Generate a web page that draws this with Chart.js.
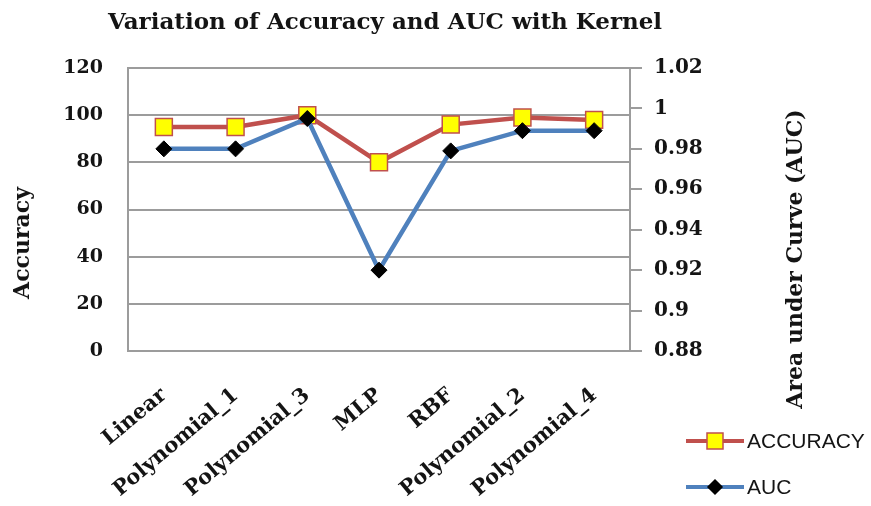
<!DOCTYPE html>
<html>
<head>
<meta charset="utf-8">
<script src="https://cdn.jsdelivr.net/npm/chart.js@4.4.1/dist/chart.umd.min.js"></script>
<style>
  html, body { margin: 0; padding: 0; background: #ffffff; }
  #wrap { width: 871px; height: 506px; position: relative; }
</style>
</head>
<body>
<div id="wrap"><canvas id="c" width="871" height="506"></canvas></div>
<script>
// Kernel types on the category axis
const kernels = ['Linear', 'Polynomial_1', 'Polynomial_3', 'MLP', 'RBF', 'Polynomial_2', 'Polynomial_4'];
// Classification accuracy (%) per kernel
const accuracy = [95, 95, 100, 80, 96, 99, 98];
// Area under the ROC curve per kernel
const auc = [0.98, 0.98, 0.995, 0.92, 0.979, 0.989, 0.989];
// Tick values for the two value axes
const accuracyTicks = [0, 20, 40, 60, 80, 100, 120];
const aucTicks = [0.88, 0.9, 0.92, 0.94, 0.96, 0.98, 1, 1.02];

const RED = '#C0504D';
const BLUE = '#4F81BD';
const GRID = '#9C9C9C';
const INK = '#141414';
const SERIF = '"DejaVu Serif", serif';
const SANS = '"Liberation Sans", Arial, sans-serif';

// Titles and legend drawn around the plot
const decor = {
  id: 'decor',
  afterDraw(chart) {
    const ctx = chart.ctx;
    ctx.save();
    ctx.fillStyle = INK;
    ctx.textBaseline = 'middle';

    ctx.font = 'bold 23px ' + SERIF;
    ctx.textAlign = 'center';
    ctx.fillText('Variation of Accuracy and AUC with Kernel', 385, 23);

    ctx.font = 'bold 22px ' + SERIF;
    ctx.save();
    ctx.translate(23, 243);
    ctx.rotate(-Math.PI / 2);
    ctx.fillText('Accuracy', 0, 0);
    ctx.restore();

    ctx.save();
    ctx.translate(796, 259);
    ctx.rotate(-Math.PI / 2);
    ctx.fillText('Area under Curve (AUC)', 0, 0);
    ctx.restore();

    // legend entries
    const ds = chart.data.datasets;
    const rows = [
      { d: ds[0], y: 441 },
      { d: ds[1], y: 487 }
    ];
    rows.forEach(r => {
      ctx.strokeStyle = r.d.borderColor;
      ctx.lineWidth = 4;
      ctx.beginPath();
      ctx.moveTo(686, r.y);
      ctx.lineTo(744, r.y);
      ctx.stroke();
      ctx.fillStyle = r.d.pointBackgroundColor;
      ctx.strokeStyle = r.d.pointBorderColor;
      ctx.lineWidth = 1.5;
      ctx.beginPath();
      if (r.d.pointStyle === 'rect') {
        ctx.rect(715 - 8, r.y - 8, 16, 16);
      } else {
        ctx.moveTo(715, r.y - 7);
        ctx.lineTo(722, r.y);
        ctx.lineTo(715, r.y + 7);
        ctx.lineTo(708, r.y);
        ctx.closePath();
      }
      ctx.fill();
      ctx.stroke();
      ctx.fillStyle = INK;
      ctx.font = '21px ' + SANS;
      ctx.textAlign = 'left';
      ctx.fillText(r.d.label, 747, r.y + 1);
    });
    ctx.restore();
  }
};

Chart.defaults.font.family = SERIF;
Chart.defaults.color = INK;

new Chart(document.getElementById('c'), {
  type: 'line',
  data: {
    labels: kernels,
    datasets: [
      {
        label: 'ACCURACY',
        data: accuracy,
        yAxisID: 'y',
        order: 1,
        borderColor: RED,
        borderWidth: 4.5,
        tension: 0,
        pointStyle: 'rect',
        pointRadius: 12,
        pointHoverRadius: 12,
        pointBackgroundColor: '#FFFF00',
        pointBorderColor: RED,
        pointBorderWidth: 1.5
      },
      {
        label: 'AUC',
        data: auc,
        yAxisID: 'y1',
        order: 0,
        borderColor: BLUE,
        borderWidth: 4.5,
        tension: 0,
        pointStyle: 'rectRot',
        pointRadius: 8,
        pointHoverRadius: 8,
        pointBackgroundColor: '#000000',
        pointBorderColor: '#000000',
        pointBorderWidth: 1
      }
    ]
  },
  options: {
    responsive: false,
    animation: false,
    devicePixelRatio: 1,
    layout: { padding: { top: 68, left: 0, right: 0, bottom: 0 } },
    plugins: {
      legend: { display: false },
      title: { display: false },
      tooltip: { enabled: false }
    },
    scales: {
      x: {
        offset: true,
        grid: { display: false, drawTicks: false },
        border: { display: true, color: GRID, width: 2 },
        ticks: {
          font: { size: 21, weight: 'bold' },
          minRotation: 40,
          maxRotation: 40,
          padding: 32,
          autoSkip: false
        },
        afterFit(s) { s.height = 155; }
      },
      y: {
        position: 'left',
        min: 0,
        max: 120,
        afterBuildTicks(s) { s.ticks = accuracyTicks.map(v => ({ value: v })); },
        grid: { color: GRID, lineWidth: 2, drawTicks: false },
        border: { display: true, color: GRID, width: 2 },
        ticks: {
          font: { size: 19, weight: 'bold' },
          padding: 25,
          callback: v => String(v)
        },
        afterFit(s) { s.width = 128; }
      },
      y1: {
        position: 'right',
        min: 0.88,
        max: 1.02,
        afterBuildTicks(s) { s.ticks = aucTicks.map(v => ({ value: v })); },
        grid: { drawOnChartArea: false, drawTicks: true, tickLength: 12, color: GRID, lineWidth: 2 },
        border: { display: true, color: GRID, width: 2 },
        ticks: {
          font: { size: 20, weight: 'bold' },
          padding: 12,
          callback: v => String(Math.round(v * 100) / 100)
        },
        afterFit(s) { s.width = 241; }
      }
    }
  },
  plugins: [decor]
});
</script>
</body>
</html>
